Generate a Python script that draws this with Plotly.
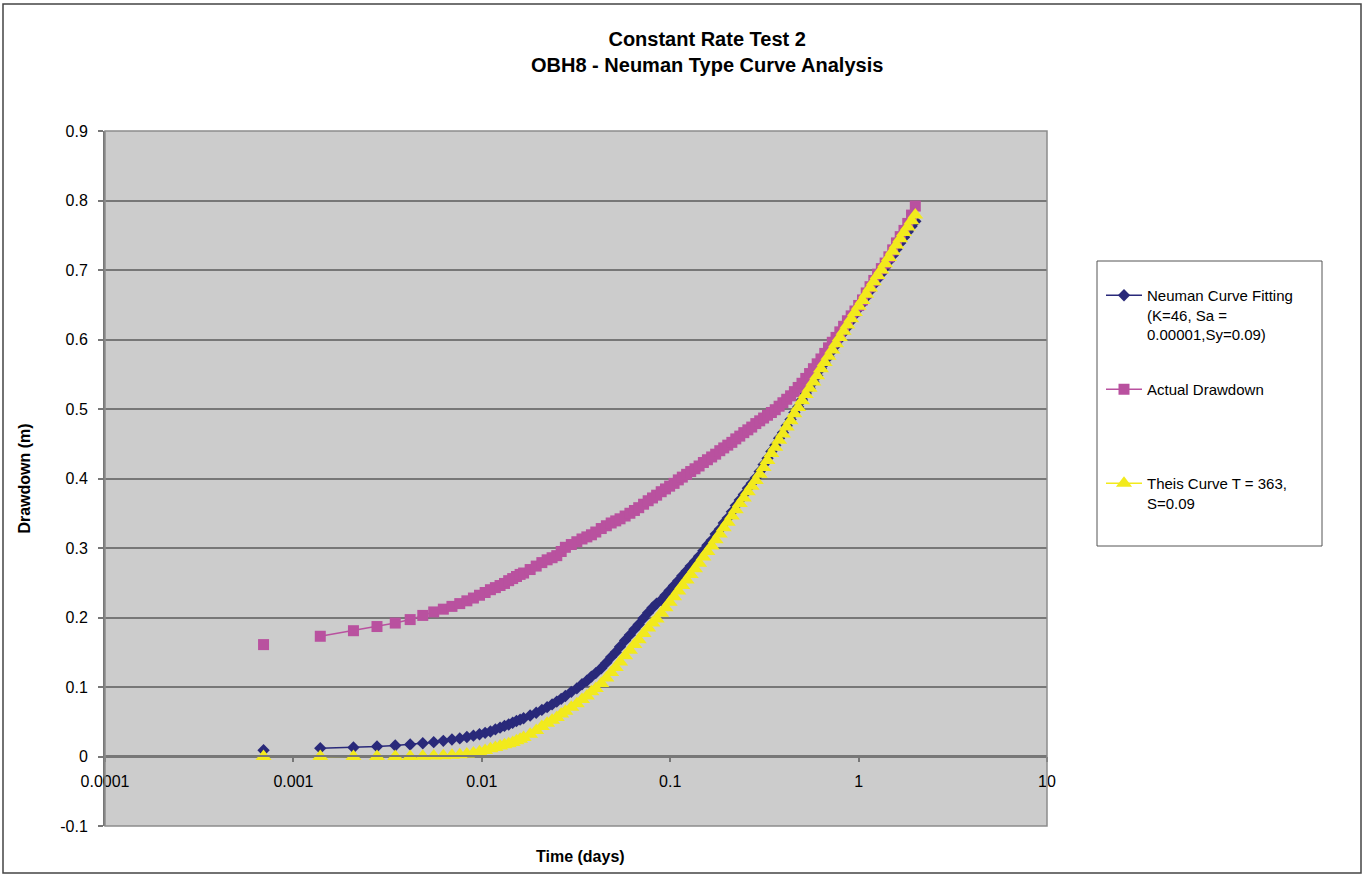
import plotly.graph_objects as go

# Elapsed time since pumping start, in minutes (None = break in the record)
elapsed_min = [
    1, None,
    2, 3, 4, 5, 6, 7, 8, 9, 10, 11, 12, 13, 14, 15, 16, 17, 18, 19, 20, 21, 22, 23, 24,
    26, 28, 30, 32, 34, 36, 38, 40,
    43, 46, 49, 52, 55, 58,
    62, 66, 70, 74, 78,
    83, 88, 93, 98,
    104, 110, 116, 122,
    129, 136, 143, 151, 159, 167, 176, 185, 195,
    205, 216, 227, 239, 251, 264, 277, 291, 306, 321, 337, 354, 372, 390,
    410, 430, 451, 473, 496, 520, 545, 571, 598, 627, 657, 688, 721, 755, 791, 829, 868, 909, 952, 997,
    1044, 1093, 1145, 1199, 1256, 1315, 1377, 1442, 1510, 1581, 1656, 1734, 1816, 1902, 1992, 2086,
    2184, 2287, 2395, 2508, 2626, 2750, 2880,
]

# Neuman type curve fit (K=46, Sa=0.00001, Sy=0.09), drawdown in m
neuman_dd = [
    0.009, None,
    0.012, 0.013, 0.0144, 0.0158, 0.0173, 0.019, 0.0206, 0.0225, 0.0244, 0.026, 0.028, 0.030,
    0.032, 0.034, 0.036, 0.039, 0.0415, 0.044, 0.046, 0.0485, 0.051, 0.053, 0.055,
    0.059, 0.063, 0.067, 0.071, 0.075, 0.079, 0.083, 0.087,
    0.093, 0.098, 0.104, 0.109, 0.115, 0.120,
    0.127, 0.135, 0.143, 0.150, 0.158,
    0.167, 0.175, 0.183, 0.190,
    0.199, 0.207, 0.214, 0.220,
    0.225, 0.232, 0.239, 0.246, 0.253, 0.260, 0.267, 0.274, 0.281,
    0.288, 0.296, 0.304, 0.311, 0.320, 0.327, 0.336, 0.343, 0.352, 0.361, 0.369, 0.377, 0.386, 0.393,
    0.401, 0.410, 0.420, 0.429, 0.439, 0.448, 0.458, 0.466, 0.476, 0.485, 0.495, 0.503, 0.513,
    0.522, 0.530, 0.539, 0.548, 0.558, 0.566, 0.575,
    0.584, 0.592, 0.601, 0.610, 0.618, 0.627, 0.636, 0.645, 0.652, 0.661, 0.670, 0.679, 0.687,
    0.695, 0.704, 0.713, 0.721, 0.730, 0.739, 0.747, 0.755, 0.763, 0.770,
]

# Measured drawdown at OBH8, in m
actual_dd = [
    0.161, None,
    0.173, 0.181, 0.187, 0.192, 0.197, 0.203, 0.208, 0.212, 0.216, 0.220, 0.224, 0.228,
    0.232, 0.236, 0.240, 0.243, 0.246, 0.249, 0.253, 0.256, 0.259, 0.262, 0.264,
    0.269, 0.274, 0.279, 0.283, 0.286, 0.289, 0.295, 0.301,
    0.305, 0.309, 0.313, 0.316, 0.319, 0.323,
    0.328, 0.332, 0.336, 0.339, 0.342,
    0.346, 0.350, 0.354, 0.358,
    0.363, 0.368, 0.372, 0.376,
    0.381, 0.385, 0.389, 0.393, 0.398, 0.402, 0.406, 0.410, 0.414,
    0.418, 0.423, 0.427, 0.431, 0.435, 0.440, 0.444, 0.448, 0.452, 0.457, 0.461, 0.466, 0.470, 0.474,
    0.479, 0.483, 0.487, 0.491, 0.495, 0.499, 0.504, 0.509, 0.514, 0.519, 0.525, 0.531, 0.537,
    0.544, 0.551, 0.558, 0.565, 0.572, 0.580, 0.588,
    0.596, 0.603, 0.611, 0.619, 0.627, 0.634, 0.641, 0.649, 0.657, 0.667, 0.676, 0.685, 0.694,
    0.702, 0.710, 0.719, 0.729, 0.739, 0.748, 0.757, 0.767, 0.779, 0.792,
]

# Theis curve (T=363, S=0.09), drawdown in m
theis_dd = [
    0.000, None,
    0.000, 0.000, 0.000, 0.000, 0.000, 0.0003, 0.0006, 0.001, 0.0017, 0.0026, 0.0037, 0.005,
    0.0068, 0.0088, 0.011, 0.013, 0.015, 0.0168, 0.0185, 0.020, 0.0225, 0.025, 0.0275,
    0.032, 0.0375, 0.043, 0.048, 0.052, 0.056, 0.061, 0.065,
    0.071, 0.076, 0.082, 0.087, 0.093, 0.098,
    0.105, 0.113, 0.121, 0.128, 0.136,
    0.145, 0.153, 0.161, 0.168,
    0.177, 0.185, 0.192, 0.198,
    0.206, 0.214, 0.222, 0.230, 0.238, 0.246, 0.254, 0.262, 0.270,
    0.278, 0.287, 0.295, 0.303, 0.312, 0.320, 0.329, 0.337, 0.346, 0.355, 0.364, 0.372, 0.381, 0.389,
    0.397, 0.406, 0.416, 0.426, 0.436, 0.445, 0.455, 0.464, 0.474, 0.483, 0.493, 0.502, 0.512,
    0.521, 0.530, 0.539, 0.548, 0.558, 0.567, 0.576,
    0.585, 0.594, 0.603, 0.612, 0.621, 0.630, 0.639, 0.648, 0.656, 0.665, 0.674, 0.683, 0.692,
    0.700, 0.709, 0.718, 0.727, 0.736, 0.745, 0.754, 0.762, 0.771, 0.779,
]

x_tickvals = [0.0001, 0.001, 0.01, 0.1, 1, 10]
x_ticktext = ["0.0001", "0.001", "0.01", "0.1", "1", "10"]
y_tickvals = [-0.1, 0, 0.1, 0.2, 0.3, 0.4, 0.5, 0.6, 0.7, 0.8, 0.9]
y_ticktext = ["-0.1", "0", "0.1", "0.2", "0.3", "0.4", "0.5", "0.6", "0.7", "0.8", "0.9"]

series_names = [
    "Neuman Curve Fitting<br>(K=46, Sa =<br>0.00001,Sy=0.09)",
    "Actual Drawdown",
    "Theis Curve T = 363,<br>S=0.09",
]

assert len(elapsed_min) == len(neuman_dd) == len(actual_dd) == len(theis_dd)

time_days = [m / 1440 if m is not None else None for m in elapsed_min]

FONT = "Liberation Sans, Arial, sans-serif"
NAVY = "#29297A"
MAGENTA = "#B9519F"
YELLOW = "#F2EA1C"

# Plot-area geometry in pixels
W, H = 1365, 877
L, R, T, B = 105, 1047, 131, 826
pw, ph = R - L, B - T


def px_x(px):
    return (px - L) / pw


def px_y(py):
    return (B - py) / ph


fig = go.Figure()

styles = [
    (neuman_dd, NAVY, "diamond", 9.5, "legend"),
    (actual_dd, MAGENTA, "square", 11, "legend2"),
    (theis_dd, YELLOW, "triangle-up", 14, "legend3"),
]
for name, (yvals, color, symbol, size, leg) in zip(series_names, styles):
    fig.add_trace(go.Scatter(
        x=time_days, y=yvals, name=name, mode="lines+markers",
        connectgaps=False,
        line=dict(color=color, width=1.5),
        marker=dict(symbol=symbol, size=size, color=color, line=dict(width=0)),
        legend=leg,
    ))

legend_common = dict(
    xanchor="left", yanchor="top", bgcolor="rgba(0,0,0,0)", borderwidth=0,
    font=dict(family=FONT, size=15, color="#000000"), valign="top",
    itemwidth=36,
)

fig.update_layout(
    width=W, height=H,
    margin=dict(l=L, r=W - R, t=T, b=H - B),
    paper_bgcolor="#FFFFFF",
    plot_bgcolor="#CCCCCC",
    font=dict(family=FONT, size=16, color="#000000"),
    showlegend=True,
    legend=dict(x=px_x(1101), y=px_y(279), **legend_common),
    legend2=dict(x=px_x(1101), y=px_y(373), **legend_common),
    legend3=dict(x=px_x(1101), y=px_y(467), **legend_common),
    xaxis=dict(
        type="log", range=[-4, 1], anchor="free", position=px_y(756),
        tickvals=x_tickvals, ticktext=x_ticktext,
        ticks="outside", ticklen=5, tickcolor="#777777", tickwidth=1.5,
        showline=True, linecolor="#777777", linewidth=1.5,
        showgrid=False, zeroline=False,
        tickfont=dict(family=FONT, size=16, color="#000000"),
        ticklabelstandoff=6,
    ),
    yaxis=dict(
        range=[-0.1, 0.9], tickvals=y_tickvals, ticktext=y_ticktext,
        ticks="outside", ticklen=5, tickcolor="#777777", tickwidth=1.5,
        showline=True, linecolor="#777777", linewidth=2,
        showgrid=True, gridcolor="#777777", gridwidth=1.5, zeroline=False,
        tickfont=dict(family=FONT, size=16, color="#000000"),
        ticklabelstandoff=7,
        title=dict(text="<b>Drawdown (m)</b>", font=dict(family=FONT, size=16), standoff=26),
    ),
    annotations=[
        dict(text="<b>Constant Rate Test 2<br>OBH8 - Neuman Type Curve Analysis</b>",
             xref="paper", yref="paper", x=px_x(707), y=px_y(52),
             xanchor="center", yanchor="middle", showarrow=False,
             font=dict(family=FONT, size=20, color="#000000")),
        dict(text="<b>Time (days)</b>",
             xref="paper", yref="paper", x=px_x(580), y=px_y(856),
             xanchor="center", yanchor="middle", showarrow=False,
             font=dict(family=FONT, size=16, color="#000000")),
    ],
    shapes=[
        # plot-area frame
        dict(type="rect", xref="paper", yref="paper", x0=0, x1=1, y0=0, y1=1,
             line=dict(color="#8C8C8C", width=1.5), layer="above"),
        # legend box
        dict(type="rect", xref="paper", yref="paper",
             x0=px_x(1097), x1=px_x(1322), y0=px_y(546), y1=px_y(261),
             line=dict(color="#555555", width=1), layer="above"),
        # chart-area frame
        dict(type="rect", xref="paper", yref="paper",
             x0=px_x(3), x1=px_x(1361), y0=px_y(873), y1=px_y(4),
             line=dict(color="#444444", width=1.5), layer="above"),
    ],
)

fig.write_html("out.html")
